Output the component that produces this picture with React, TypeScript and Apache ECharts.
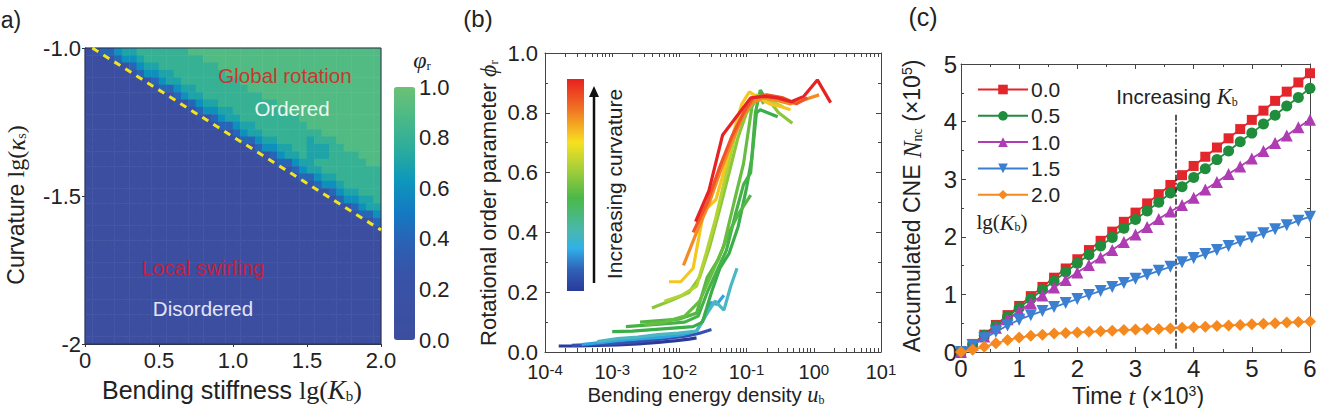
import React, { useEffect, useRef } from "react";
import * as echarts from "echarts";

const SANS = '"Liberation Sans", Arial, Helvetica, sans-serif';
const SERIF = '"Liberation Serif", "Times New Roman", serif';
const INK = "#222222";

// ---------- (a) phase diagram: rotational order parameter over lg(Kb) x lg(ks) ----------
// 40 x 40 cells, rows from lg(ks) = -1.0 (top) down to -2.0, columns lg(Kb) 0 -> 2.
// Each digit is phi_r in tenths.
const PHASE_ROWS = [
  "0244677888 8888999999 9999999999 9999999999",
  "0002466788 8888889999 9999999999 9999999999",
  "0000224677 8888888899 9999999999 9999999999",
  "0000002466 7788888889 9999999999 9999999999",
  "0000000024 6778888888 8999999999 9999999999",
  "0000000002 4467788888 8899999999 9999999999",
  "0000000000 0246778888 8888999999 9999999999",
  "0000000000 0022467788 8888889999 9999999999",
  "0000000000 0000246677 8888888999 9999999999",
  "0000000000 0000022467 7888888889 9999999999",
  "0000000000 0000000244 6778888888 9999999999",
  "0000000000 0000000002 4677888888 8899999999",
  "0000000000 0000000000 2446778888 7888999999",
  "0000000000 0000000000 0024667788 7778899999",
  "0000000000 0000000000 0002246778 7778888999",
  "0000000000 0000000000 0000024467 7888888899",
  "0000000000 0000000000 0000000246 7788888888",
  "0000000000 0000000000 0000000024 4677888888",
  "0000000000 0000000000 0000000000 2466788888",
  "0000000000 0000000000 0000000000 0224677888",
  "0000000000 0000000000 0000000000 0002466778",
  "0000000000 0000000000 0000000000 0000224677",
  "0000000000 0000000000 0000000000 0000002446",
  "0000000000 0000000000 0000000000 0000000024",
  "0000000000 0000000000 0000000000 0000000002",
  "0000000000 0000000000 0000000000 0000000000",
  "0000000000 0000000000 0000000000 0000000000",
  "0000000000 0000000000 0000000000 0000000000",
  "0000000000 0000000000 0000000000 0000000000",
  "0000000000 0000000000 0000000000 0000000000",
  "0000000000 0000000000 0000000000 0000000000",
  "0000000000 0000000000 0000000000 0000000000",
  "0000000000 0000000000 0000000000 0000000000",
  "0000000000 0000000000 0000000000 0000000000",
  "0000000000 0000000000 0000000000 0000000000",
  "0000000000 0000000000 0000000000 0000000000",
  "0000000000 0000000000 0000000000 0000000000",
  "0000000000 0000000000 0000000000 0000000000",
  "0000000000 0000000000 0000000000 0000000000",
  "0000000000 0000000000 0000000000 0000000000",
];
const PHASE_BOUNDARY = [
  [0.05, -1.0],
  [2.0, -1.615],
];
const PHI_COLORS = [
  "#3c4ea0",
  "#3b50a3",
  "#3853a7",
  "#2c60b4",
  "#1479c2",
  "#0d96bc",
  "#2aac9c",
  "#4ab987",
  "#6cc175",
];

// ---------- (b) rotational order parameter vs bending energy density ----------
type Curve = { color: string; points: number[][] };
const CURVE_B1: Curve = {
  color: "#2b3a97",
  points: [[1.6e-4, 0.02], [3e-4, 0.02], [6e-4, 0.022], [1.2e-3, 0.024], [2.4e-3, 0.027], [4.8e-3, 0.032], [9e-3, 0.038], [1.4e-2, 0.043], [1.8e-2, 0.047]],
};
const CURVE_B2: Curve = {
  color: "#3552b2",
  points: [[2.5e-4, 0.022], [5e-4, 0.025], [1e-3, 0.028], [2e-3, 0.033], [4e-3, 0.04], [8e-3, 0.048], [1.4e-2, 0.055], [2e-2, 0.063], [3e-2, 0.075]],
};
const CURVE_C1: Curve = {
  color: "#2ca6e2",
  points: [[3.5e-4, 0.025], [7e-4, 0.032], [1.4e-3, 0.04], [2.8e-3, 0.045], [5.6e-3, 0.05], [1.1e-2, 0.058], [1.8e-2, 0.07], [2.3e-2, 0.11], [2.9e-2, 0.165], [3.6e-2, 0.16], [4.6e-2, 0.19]],
};
const CURVE_T1: Curve = {
  color: "#4cb6c2",
  points: [[6e-4, 0.035], [1.2e-3, 0.045], [2.4e-3, 0.05], [4.8e-3, 0.058], [9.6e-3, 0.063], [1.8e-2, 0.07], [2.6e-2, 0.13], [3.4e-2, 0.17], [4.6e-2, 0.14], [5.8e-2, 0.22], [7.2e-2, 0.28]],
};
const CURVE_G1: Curve = {
  color: "#3aae48",
  points: [[1e-3, 0.068], [2e-3, 0.07], [4e-3, 0.075], [8e-3, 0.08], [1.6e-2, 0.085], [2.2e-2, 0.1], [3e-2, 0.2], [4e-2, 0.28], [5.5e-2, 0.33], [7.5e-2, 0.42], [1e-1, 0.55], [1.2e-1, 0.65], [1.4e-1, 0.8], [1.6e-1, 0.81], [2.9e-1, 0.787]],
};
const CURVE_G2: Curve = {
  color: "#45b247",
  points: [[1.6e-3, 0.085], [3.2e-3, 0.09], [6.4e-3, 0.095], [1.2e-2, 0.1], [1.9e-2, 0.12], [2.6e-2, 0.2], [3.6e-2, 0.27], [5e-2, 0.34], [7e-2, 0.47], [9e-2, 0.56], [1.15e-1, 0.6], [1.35e-1, 0.8], [1.6e-1, 0.876], [2e-1, 0.84]],
};
const CURVE_G3: Curve = {
  color: "#52b745",
  points: [[2.6e-3, 0.1], [5e-3, 0.105], [1e-2, 0.11], [1.8e-2, 0.13], [2.6e-2, 0.25], [3.8e-2, 0.31], [5.5e-2, 0.4], [7.5e-2, 0.46], [1.15e-1, 0.525]],
};
const CURVE_G4: Curve = {
  color: "#66bd42",
  points: [[3e-3, 0.09], [6e-3, 0.1], [1.2e-2, 0.12], [2e-2, 0.17], [3e-2, 0.26], [4.5e-2, 0.35], [6.5e-2, 0.5], [9e-2, 0.63], [1.2e-1, 0.82], [1.5e-1, 0.86], [1.8e-1, 0.83]],
};
const CURVE_G5: Curve = {
  color: "#8cc63a",
  points: [[3.9e-3, 0.147], [8e-3, 0.175], [1.4e-2, 0.2], [2e-2, 0.25], [2.8e-2, 0.35], [4e-2, 0.48], [5.5e-2, 0.6], [7.5e-2, 0.72], [1e-1, 0.8], [1.3e-1, 0.84], [2e-1, 0.85], [3e-1, 0.8], [4.8e-1, 0.765]],
};
const CURVE_G6: Curve = {
  color: "#b2d334",
  points: [[6e-3, 0.17], [1.1e-2, 0.19], [1.8e-2, 0.22], [2.5e-2, 0.33], [3.5e-2, 0.45], [5e-2, 0.6], [7e-2, 0.74], [1e-1, 0.83], [1.4e-1, 0.86], [2.2e-1, 0.84], [3.5e-1, 0.82]],
};
const CURVE_Y1: Curve = {
  color: "#f6c620",
  points: [[7e-3, 0.235], [1.05e-2, 0.235], [1.6e-2, 0.28], [2.3e-2, 0.47], [3.5e-2, 0.51], [4.8e-2, 0.62], [6.5e-2, 0.74], [8.5e-2, 0.83], [1.1e-1, 0.87], [1.5e-1, 0.85], [2.2e-1, 0.83], [3.3e-1, 0.82], [4.5e-1, 0.81]],
};
const CURVE_O1: Curve = {
  color: "#f38a26",
  points: [[1.15e-2, 0.29], [1.8e-2, 0.4], [2.8e-2, 0.5], [4e-2, 0.6], [6e-2, 0.7], [8.5e-2, 0.78], [1.15e-1, 0.83], [1.8e-1, 0.85], [3e-1, 0.84], [4.5e-1, 0.83], [6.5e-1, 0.84], [1.2, 0.86]],
};
const CURVE_O2: Curve = {
  color: "#f05428",
  points: [[1.6e-2, 0.4], [2.6e-2, 0.5], [4e-2, 0.62], [6e-2, 0.72], [9e-2, 0.8], [1.25e-1, 0.85], [2e-1, 0.86], [3.5e-1, 0.85], [5.5e-1, 0.83], [8e-1, 0.85]],
};
const CURVE_R1: Curve = {
  color: "#e62222",
  points: [[1.74e-2, 0.436], [2.75e-2, 0.54], [4.4e-2, 0.726], [6.2e-2, 0.77], [1.15e-1, 0.85], [1.9e-1, 0.855], [2.9e-1, 0.85], [4.6e-1, 0.837], [7.1e-1, 0.855], [1.13, 0.91], [1.78, 0.834]],
};
const CURVES_B = [
  CURVE_B1, CURVE_B2, CURVE_C1, CURVE_T1, CURVE_G1, CURVE_G2, CURVE_G3,
  CURVE_G4, CURVE_G5, CURVE_G6, CURVE_Y1, CURVE_O1, CURVE_O2, CURVE_R1,
];
const DECADES_B = [-4, -3, -2, -1, 0];
const MANTISSAS_B = [1, 2, 3, 4, 5, 6, 7, 8, 9];

// ---------- (c) accumulated CNE vs time ----------
const TIME_K = [0, 0.2, 0.4, 0.6, 0.8, 1, 1.2, 1.4, 1.6, 1.8, 2, 2.2, 2.4, 2.6, 2.8, 3, 3.2, 3.4, 3.6, 3.8, 4, 4.2, 4.4, 4.6, 4.8, 5, 5.2, 5.4, 5.6, 5.8, 6];
const CNE_KB00 = [0, 0.14, 0.3, 0.47, 0.64, 0.8, 0.97, 1.13, 1.29, 1.45, 1.61, 1.77, 1.93, 2.09, 2.26, 2.42, 2.58, 2.74, 2.9, 3.07, 3.23, 3.39, 3.55, 3.71, 3.87, 4.03, 4.19, 4.36, 4.52, 4.68, 4.84];
const CNE_KB05 = [0, 0.13, 0.29, 0.45, 0.61, 0.77, 0.92, 1.08, 1.23, 1.39, 1.54, 1.69, 1.84, 1.99, 2.15, 2.3, 2.45, 2.6, 2.76, 2.87, 3.03, 3.18, 3.34, 3.49, 3.65, 3.8, 3.96, 4.11, 4.27, 4.42, 4.58];
const CNE_KB10 = [0, 0.12, 0.27, 0.42, 0.57, 0.71, 0.85, 0.98, 1.12, 1.25, 1.38, 1.51, 1.64, 1.77, 1.91, 2.04, 2.17, 2.31, 2.44, 2.55, 2.68, 2.82, 2.95, 3.09, 3.22, 3.36, 3.49, 3.63, 3.76, 3.9, 4.03];
const CNE_KB15 = [0, 0.12, 0.24, 0.35, 0.46, 0.56, 0.64, 0.71, 0.78, 0.85, 0.92, 0.99, 1.06, 1.13, 1.2, 1.27, 1.34, 1.41, 1.48, 1.56, 1.63, 1.7, 1.77, 1.84, 1.92, 1.99, 2.06, 2.13, 2.2, 2.28, 2.35];
const CNE_KB20 = [0, 0.04, 0.09, 0.15, 0.21, 0.25, 0.28, 0.3, 0.32, 0.33, 0.34, 0.35, 0.36, 0.37, 0.38, 0.39, 0.4, 0.4, 0.41, 0.42, 0.43, 0.44, 0.45, 0.46, 0.47, 0.48, 0.49, 0.5, 0.51, 0.52, 0.53];
const KB_LABELS = ["0.0", "0.5", "1.0", "1.5", "2.0"];
const KB_COLORS = ["#e3262b", "#1f8d3c", "#b03cb4", "#3a7fd0", "#f5891f"];
const KB_SYMBOLS = ["rect", "circle", "triangle", "triangle", "diamond"];
const KB_SYMBOL_ROTATE = [0, 0, 0, 180, 0];
const KB_SYMBOL_SIZE = [10, 11, 12, 12, 12];
const ARROW_T = 3.7;
const ARROW_FROM = 4.12;

const rich = (size: number) => ({
  s: { fontFamily: SANS, fontSize: size, fill: INK, color: INK },
  m: { fontFamily: SERIF, fontSize: size + 1, fill: INK, color: INK },
  i: { fontFamily: SERIF, fontStyle: "italic", fontSize: size + 2, fill: INK, color: INK },
  sub: { fontFamily: SERIF, fontSize: Math.round(size * 0.6), fill: INK, color: INK, verticalAlign: "bottom" },
  sup: { fontFamily: SANS, fontSize: Math.round(size * 0.62), fill: INK, color: INK, verticalAlign: "top" },
});

function label(
  x: number,
  y: number,
  text: string,
  size: number,
  opts: { rot?: number; color?: string; family?: string; align?: string } = {}
) {
  const align = opts.align || "center";
  return {
    type: "text",
    x,
    y,
    rotation: opts.rot || 0,
    silent: true,
    z: 50,
    style: {
      x: 0,
      y: 0,
      text,
      fontSize: size,
      fontFamily: opts.family || SANS,
      fill: opts.color || INK,
      align,
      textAlign: align,
      verticalAlign: "middle",
      textVerticalAlign: "middle",
      rich: rich(size),
    },
  };
}

function buildOption() {
  const heatData: number[][] = [];
  PHASE_ROWS.forEach((row, r) => {
    row
      .replace(/ /g, "")
      .split("")
      .forEach((ch, c) => heatData.push([c, r, Number(ch) / 10]));
  });
  const nCols = PHASE_ROWS[0].replace(/ /g, "").length;
  const colCats = Array.from({ length: nCols }, (_, i) => String(i));
  const rowCats = PHASE_ROWS.map((_, i) => String(i));

  const minorB: number[] = [];
  DECADES_B.forEach((d) => MANTISSAS_B.forEach((m) => minorB.push(m * Math.pow(10, d))));
  minorB.push(10);

  const frame = { show: true, onZero: false, lineStyle: { color: "#444", width: 1 } };
  const ticksIn = (len: number) => ({ show: true, inside: true, length: len, lineStyle: { color: "#444", width: 1 } });
  const minorIn = { show: true, splitNumber: 2, length: 3, lineStyle: { color: "#444", width: 1 } };
  const noSplit = { show: false };

  const logLabel = (v: number) => {
    const e = Math.round(Math.log10(v));
    return `{b|10}{e|${e}}`;
  };

  const bSeries = CURVES_B.map((c, i) => ({
    name: `curve-${i}`,
    type: "line",
    xAxisIndex: 2,
    yAxisIndex: 2,
    data: c.points,
    showSymbol: false,
    symbol: "none",
    lineStyle: { color: c.color, width: 3.2 },
    itemStyle: { color: c.color },
    silent: true,
    z: 3 + i * 0.01,
  }));

  const cValues = [CNE_KB00, CNE_KB05, CNE_KB10, CNE_KB15, CNE_KB20];
  const cSeries = cValues.map((vals, i) => ({
    name: KB_LABELS[i],
    type: "line",
    xAxisIndex: 4,
    yAxisIndex: 4,
    data: TIME_K.map((t, k) => [t, vals[k]]),
    symbol: KB_SYMBOLS[i],
    symbolRotate: KB_SYMBOL_ROTATE[i],
    symbolSize: KB_SYMBOL_SIZE[i],
    showSymbol: true,
    lineStyle: { color: KB_COLORS[i], width: 1.8 },
    itemStyle: { color: KB_COLORS[i] },
    silent: true,
    z: 3 + i,
  }));

  return {
    animation: false,
    backgroundColor: "#ffffff",
    textStyle: { fontFamily: SANS },
    grid: [
      { left: 85, top: 48, width: 296, height: 296, show: false },
      { left: 85, top: 48, width: 296, height: 296, show: true, borderColor: "#30304a", borderWidth: 1, backgroundColor: "transparent", z: 5 },
      { left: 545, top: 53, width: 336, height: 299, show: false },
      { left: 961, top: 64, width: 349, height: 288, show: false },
      { left: 394, top: 87, width: 21, height: 253, show: false },
    ],
    xAxis: [
      { type: "category", gridIndex: 0, data: colCats, show: false },
      {
        type: "value",
        gridIndex: 1,
        min: 0,
        max: 2,
        interval: 0.5,
        axisLine: { show: true, onZero: false, lineStyle: { color: "#333", width: 1 } },
        axisTick: { show: true, inside: false, length: 3, lineStyle: { color: "#333" } },
        axisLabel: { fontSize: 22, fontFamily: SANS, color: INK, margin: 5, formatter: (v: number) => (v === 0 ? "0" : v.toFixed(1)) },
        splitLine: noSplit,
      },
      {
        type: "log",
        gridIndex: 2,
        logBase: 10,
        min: 1e-4,
        max: 10,
        position: "bottom",
        axisLine: frame,
        axisTick: { ...ticksIn(4), customValues: minorB },
        axisLabel: {
          margin: 10,
          formatter: logLabel,
          rich: {
            b: { fontSize: 20, fontFamily: SANS, color: INK },
            e: { fontSize: 15, fontFamily: SANS, color: INK, verticalAlign: "top" },
          },
        },
        splitLine: noSplit,
      },
      {
        type: "log",
        gridIndex: 2,
        logBase: 10,
        min: 1e-4,
        max: 10,
        position: "top",
        axisLine: frame,
        axisTick: { ...ticksIn(4), customValues: minorB },
        axisLabel: { show: false },
        splitLine: noSplit,
      },
      {
        type: "value",
        gridIndex: 3,
        min: 0,
        max: 6,
        interval: 1,
        position: "bottom",
        axisLine: frame,
        axisTick: ticksIn(5),
        minorTick: minorIn,
        axisLabel: { fontSize: 24, fontFamily: SANS, color: INK, margin: 4 },
        splitLine: noSplit,
      },
      {
        type: "value",
        gridIndex: 3,
        min: 0,
        max: 6,
        interval: 1,
        position: "top",
        axisLine: frame,
        axisTick: ticksIn(5),
        minorTick: minorIn,
        axisLabel: { show: false },
        splitLine: noSplit,
      },
      { type: "value", gridIndex: 4, min: 0, max: 1, show: false },
    ],
    yAxis: [
      { type: "category", gridIndex: 0, data: rowCats, inverse: true, show: false },
      {
        type: "value",
        gridIndex: 1,
        min: -2,
        max: -1,
        interval: 0.5,
        axisLine: { show: true, onZero: false, lineStyle: { color: "#333", width: 1 } },
        axisTick: { show: true, inside: false, length: 3, lineStyle: { color: "#333" } },
        axisLabel: { fontSize: 22, fontFamily: SANS, color: INK, margin: 4, formatter: (v: number) => (v === -2 ? "-2" : v.toFixed(1)) },
        splitLine: noSplit,
      },
      {
        type: "value",
        gridIndex: 2,
        min: 0,
        max: 1,
        interval: 0.2,
        position: "left",
        axisLine: frame,
        axisTick: ticksIn(5),
        minorTick: minorIn,
        axisLabel: { fontSize: 22, fontFamily: SANS, color: INK, margin: 7, padding: [0, 0, 6, 0], formatter: (v: number) => v.toFixed(1) },
        splitLine: noSplit,
      },
      {
        type: "value",
        gridIndex: 2,
        min: 0,
        max: 1,
        interval: 0.2,
        position: "right",
        axisLine: frame,
        axisTick: ticksIn(5),
        minorTick: minorIn,
        axisLabel: { show: false },
        splitLine: noSplit,
      },
      {
        type: "value",
        gridIndex: 3,
        min: 0,
        max: 5,
        interval: 1,
        position: "left",
        axisLine: frame,
        axisTick: ticksIn(5),
        minorTick: minorIn,
        axisLabel: { fontSize: 24, fontFamily: SANS, color: INK, margin: 4 },
        splitLine: noSplit,
      },
      {
        type: "value",
        gridIndex: 3,
        min: 0,
        max: 5,
        interval: 1,
        position: "right",
        axisLine: frame,
        axisTick: ticksIn(5),
        minorTick: minorIn,
        axisLabel: { show: false },
        splitLine: noSplit,
      },
      {
        type: "value",
        gridIndex: 4,
        min: 0,
        max: 1,
        interval: 0.2,
        position: "right",
        axisLine: { show: false },
        axisTick: { show: false },
        axisLabel: { fontSize: 22, fontFamily: SANS, color: INK, margin: 4, formatter: (v: number) => v.toFixed(1) },
        splitLine: noSplit,
      },
    ],
    visualMap: [
      {
        type: "continuous",
        seriesIndex: 0,
        dimension: 2,
        min: 0,
        max: 1,
        calculable: false,
        hoverLink: false,
        orient: "vertical",
        left: 394,
        top: 87,
        itemWidth: 21,
        itemHeight: 253,
        padding: 0,
        text: ["", ""],
        showLabel: false,
        inRange: { color: PHI_COLORS },
      },
    ],
    legend: {
      data: KB_LABELS,
      orient: "vertical",
      left: 977,
      top: 79,
      padding: 0,
      itemWidth: 50,
      itemHeight: 12,
      itemGap: 5.3,
      selectedMode: false,
      textStyle: { fontSize: 21, fontFamily: SANS, color: INK, padding: [0, 0, 0, -2] },
    },
    series: [
      {
        type: "heatmap",
        xAxisIndex: 0,
        yAxisIndex: 0,
        data: heatData,
        silent: true,
        z: 1,
      },
      {
        name: "boundary",
        type: "line",
        xAxisIndex: 1,
        yAxisIndex: 1,
        data: PHASE_BOUNDARY,
        symbol: "none",
        silent: true,
        lineStyle: { color: "#f2e51e", width: 3, type: [7, 6] },
        z: 6,
      },
      ...bSeries,
      ...cSeries,
      {
        name: "arrow",
        type: "line",
        xAxisIndex: 4,
        yAxisIndex: 4,
        data: [],
        silent: true,
        markLine: {
          silent: true,
          symbol: ["none", "arrow"],
          symbolSize: [0, 9],
          label: { show: false },
          lineStyle: { color: "#222", width: 1.5, type: [6, 2, 2, 2] },
          data: [[{ coord: [ARROW_T, ARROW_FROM] }, { coord: [ARROW_T, 0.02] }]],
        },
        z: 10,
      },
    ],
    graphic: {
      elements: [
        // panel tags
        label(11, 20, "a)", 23),
        label(478, 18, "(b)", 24),
        label(923, 17, "(c)", 25),
        // (a) annotations
        label(285, 75, "Global rotation", 20.5, { color: "#c8382e" }),
        label(292, 108, "Ordered", 20.5, { color: "#eef5f0" }),
        label(203, 267, "Local swirling", 20.5, { color: "#c3203e" }),
        label(203, 308, "Disordered", 20.5, { color: "#e3e3f6" }),
        label(422, 60, "{i|φ}{sub|r}", 22),
        label(232, 390, "{s|Bending stiffness }{m|lg(}{i|K}{sub|b}{m|)}", 25),
        label(16, 205, "{s|Curvature }{m|lg(}{i|κ}{sub|s}{m|)}", 23, { rot: Math.PI / 2 }),
        // (b) annotations
        label(488, 203, "{s|Rotational order parameter }{i|ϕ}{sub|r}", 22, { rot: Math.PI / 2 }),
        label(706, 394, "{s|Bending energy density }{i|u}{sub|b}", 20.5),
        label(614, 184, "Increasing curvature", 21, { rot: Math.PI / 2 }),
        {
          type: "rect",
          silent: true,
          z: 20,
          shape: { x: 567, y: 79, width: 17, height: 212 },
          style: {
            fill: new echarts.graphic.LinearGradient(0, 0, 0, 1, [
              { offset: 0, color: "#e8201e" },
              { offset: 0.14, color: "#f07224" },
              { offset: 0.3, color: "#f8e020" },
              { offset: 0.42, color: "#a8d038" },
              { offset: 0.56, color: "#4cb848" },
              { offset: 0.72, color: "#48b8b0" },
              { offset: 0.8, color: "#30b0e8" },
              { offset: 0.9, color: "#3060b8" },
              { offset: 1, color: "#2a3a98" },
            ]),
          },
        },
        {
          type: "line",
          silent: true,
          z: 20,
          shape: { x1: 594, y1: 283, x2: 594, y2: 95 },
          style: { stroke: "#111", lineWidth: 2.5 },
        },
        {
          type: "polygon",
          silent: true,
          z: 20,
          shape: { points: [[589, 97], [599, 97], [594, 86]] },
          style: { fill: "#111" },
        },
        // (c) annotations
        label(912, 206, "{s|Accumulated CNE }{i|N}{sub|nc}{s| (×10}{sup|5}{s|)}", 23, { rot: Math.PI / 2 }),
        label(1138, 396, "{s|Time }{i|t}{s| (×10}{sup|3}{s|)}", 23),
        label(1177, 96, "{s|Increasing }{i|K}{sub|b}", 20.5),
        label(1002, 222, "{m|lg(}{i|K}{sub|b}{m|)}", 20),
      ],
    },
  };
}

export default function App() {
  const ref = useRef<HTMLDivElement>(null);
  useEffect(() => {
    if (!ref.current) return;
    const chart = echarts.init(ref.current, undefined, { renderer: "svg" });
    chart.setOption(buildOption() as any);
    return () => chart.dispose();
  }, []);
  return (
    <div
      ref={ref}
      style={{ position: "fixed", left: 0, top: 0, width: 1320, height: 408, background: "#fff" }}
    />
  );
}
